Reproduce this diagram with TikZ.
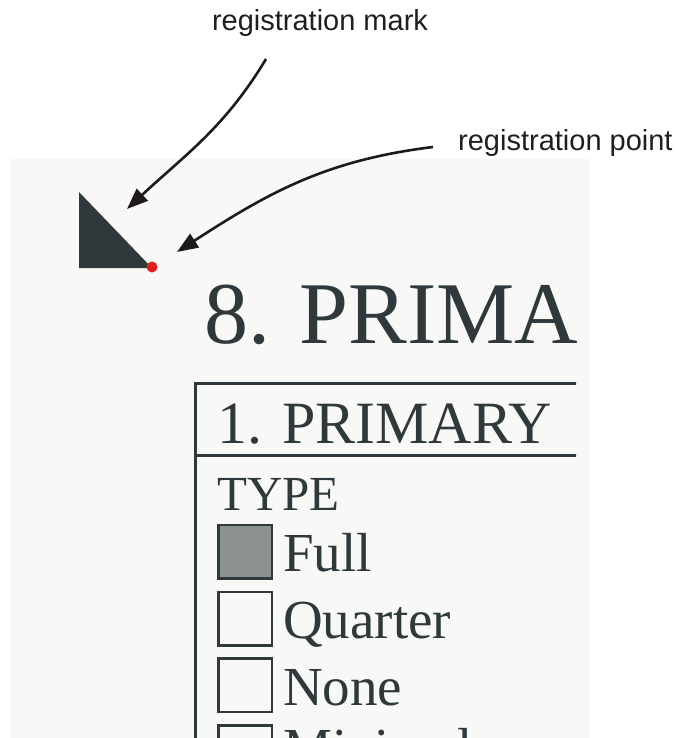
\documentclass[tikz,border=0pt]{standalone}
\usepackage{fontspec}
\setmainfont{Liberation Serif}
\newfontfamily\labelfont{Liberation Sans}
\usetikzlibrary{arrows.meta}
\definecolor{ink}{HTML}{2F393C}
\definecolor{paper}{HTML}{F8F8F7}
\definecolor{regred}{HTML}{E41E1E}
\definecolor{arrowink}{HTML}{1E1A1B}
\definecolor{shade}{HTML}{8C9192}

\begin{document}
\begin{tikzpicture}[x=1pt,y=-1pt,
  callout/.style={font=\labelfont\fontsize{29}{31}\selectfont, text=black!88, inner sep=0pt},
  pointer/.style={draw=arrowink, line width=2.6pt, -{Triangle[length=21pt,width=16pt]}},
  formtext/.style={text=ink, inner sep=0pt, anchor=base west},
  tickbox/.style={draw=ink, line width=2.5pt, minimum size=53.5pt, inner sep=0pt},
  rule/.style={draw=ink, line width=3pt}]
\useasboundingbox (0,0) rectangle (678,738);

% scanned sheet
\fill[paper] (10,159) rectangle (590,738);

\begin{scope}
  \clip (10,159) rectangle (576,738);
  % registration mark
  \fill[ink] (79,192) -- (79,268) -- (152,268) -- cycle;
  % heading
  \node[formtext, font=\fontsize{88}{90}\selectfont] (heading) at (204,343) {8. PRIMA};
  % field frame
  \coordinate (frameTL) at (195,383);
  \coordinate (frameTR) at (580,383);
  \coordinate (sepL) at (195,455);
  \coordinate (sepR) at (580,455);
  \coordinate (frameBL) at (195,745);
  \draw[rule] (frameTR) -- (frameTL) -- (frameBL);
  \draw[rule] (sepL) -- (sepR);
  \node[formtext, font=\fontsize{60}{62}\selectfont] (field) at (217,443) {1. PRIMARY};
  \node[formtext, font=\fontsize{49}{51}\selectfont] (type) at (217,510) {TYPE};
  % options
  \node[tickbox, fill=shade] (boxFull) at (245,551.5) {};
  \node[tickbox] (boxQuarter) at (245,618.5) {};
  \node[tickbox] (boxNone) at (245,685) {};
  \node[tickbox] (boxMin) at (245,752) {};
  \node[formtext, font=\fontsize{55}{57}\selectfont] (optFull) at (283,571) {Full};
  \node[formtext, font=\fontsize{55}{57}\selectfont] (optQuarter) at (283,638) {Quarter};
  \node[formtext, font=\fontsize{55}{57}\selectfont] (optNone) at (283,705) {None};
  \node[formtext, font=\fontsize{55}{57}\selectfont] (optMin) at (283,766) {Minimal};
\end{scope}

% registration point
\node[circle, fill=regred, minimum size=11pt, inner sep=0pt] (regPoint) at (152,267) {};

% callouts
\node[callout, anchor=base] (markLabel) at (320,31) {registration mark};
\node[callout, anchor=base west] (pointLabel) at (458,151) {registration point};
\coordinate (markTail) at (266,59);
\coordinate (markTip) at (127,209);
\coordinate (pointTail) at (433,147);
\coordinate (pointTip) at (177,252);
\draw[pointer] (markTail) to[out=-121, in=43] (markTip);
\draw[pointer] (pointTail) to[out=187, in=33] (pointTip);
\end{tikzpicture}
\end{document}
